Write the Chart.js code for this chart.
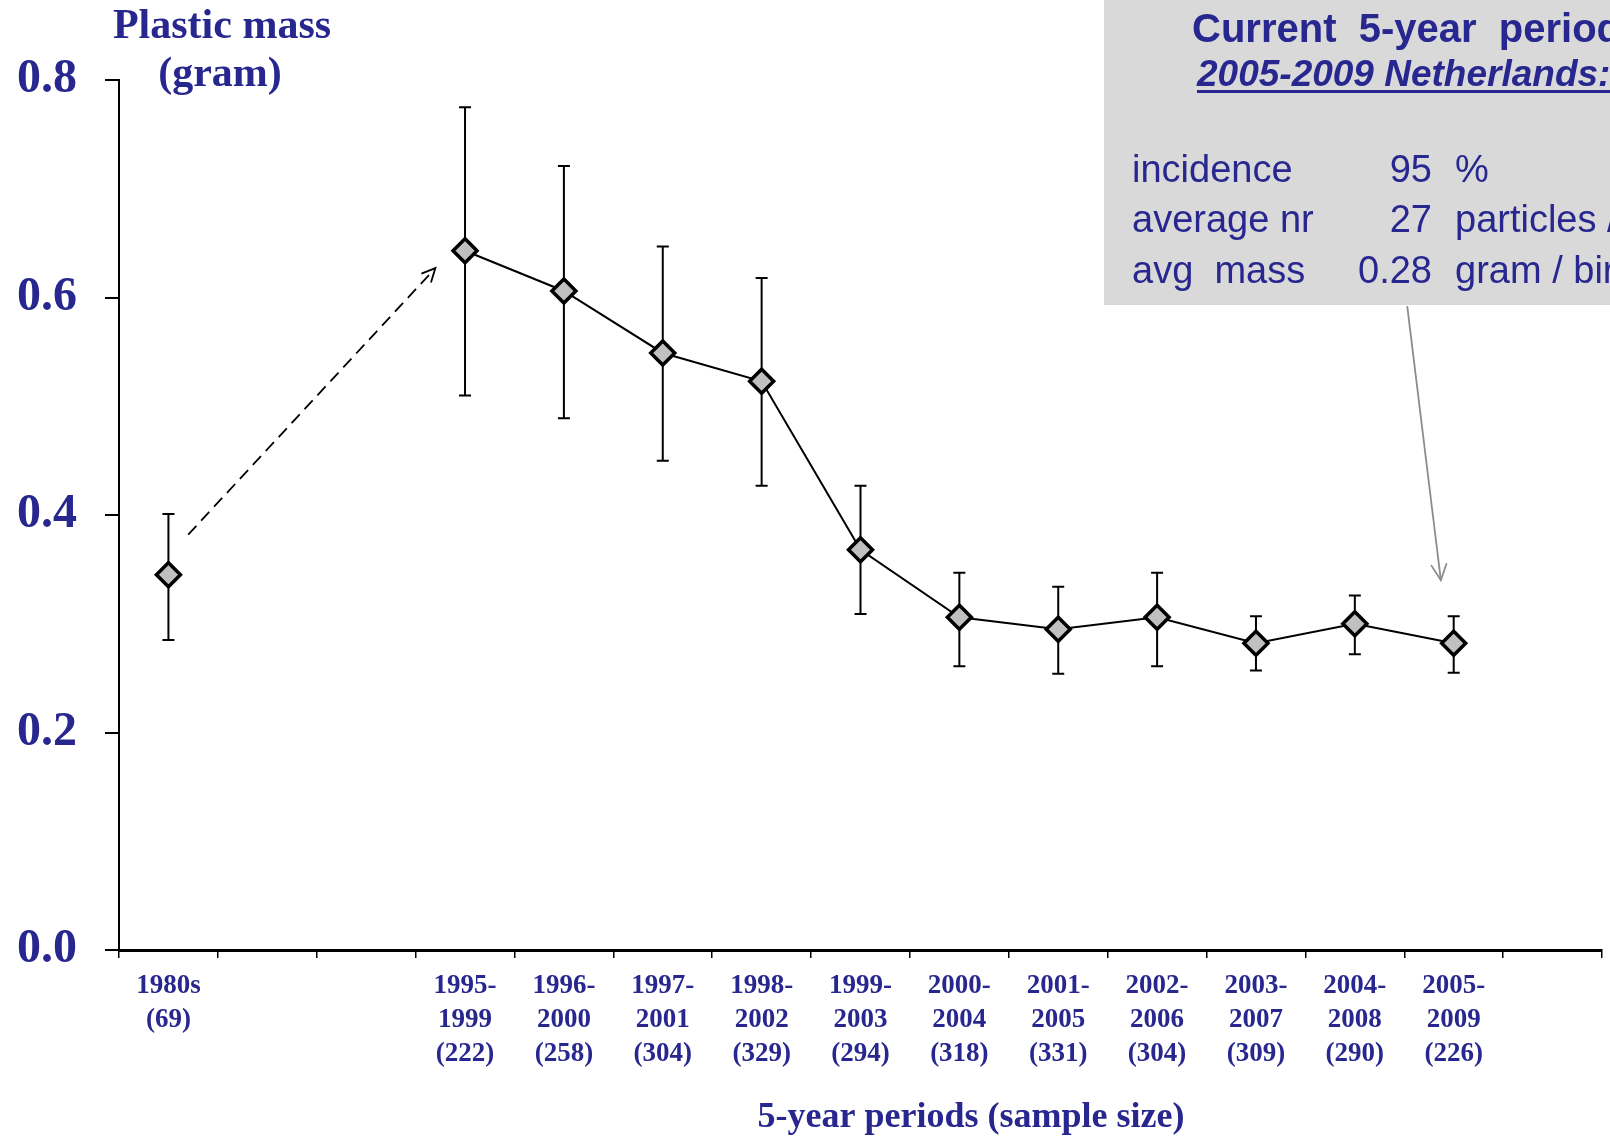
<!DOCTYPE html>
<html>
<head>
<meta charset="utf-8">
<script src="https://cdn.jsdelivr.net/npm/chart.js@4.4.1/dist/chart.umd.min.js"></script>
<style>
body { margin: 0; background: #fff; }
</style>
</head>
<body>
<canvas id="myChart" width="1610" height="1136"></canvas>
<script>
// periods on the x axis (empty slots keep the gap after the 1980s)
var periods = ['1980s', '', '', '1995-1999', '1996-2000', '1997-2001', '1998-2002', '1999-2003',
	'2000-2004', '2001-2005', '2002-2006', '2003-2007', '2004-2008', '2005-2009', ''];
var sampleSizes = [69, null, null, 222, 258, 304, 329, 294, 318, 331, 304, 309, 290, 226, null];
// average plastic mass (gram) and error bar ends
var meanMass = [0.345, null, null, 0.643, 0.606, 0.549, 0.523, 0.368, 0.306, 0.295, 0.306, 0.282, 0.300, 0.282, null];
var errLow  = [0.285, null, null, 0.510, 0.489, 0.450, 0.427, 0.309, 0.261, 0.254, 0.261, 0.257, 0.272, 0.255, null];
var errHigh = [0.401, null, null, 0.775, 0.721, 0.647, 0.618, 0.427, 0.347, 0.334, 0.347, 0.307, 0.326, 0.307, null];
var yTicks = [0, 0.2, 0.4, 0.6, 0.8];

var infoRows = [
	['incidence', '95', '%'],
	['average nr', '27', 'particles / bird'],
	['avg  mass', '0.28', 'gram / bird']
];

var NAVY = '#27278f';
var SERIF = '"Liberation Serif", "Times New Roman", serif';
var SANS = '"Liberation Sans", Arial, sans-serif';

function buildLabels() {
	var labels = [];
	for (var i = 0; i < periods.length; i++) {
		var p = periods[i];
		if (!p) { labels.push(''); continue; }
		var parts = p.split('-');
		if (parts.length == 2) {
			labels.push([parts[0] + '-', parts[1], '(' + sampleSizes[i] + ')']);
		} else {
			labels.push([p, '(' + sampleSizes[i] + ')']);
		}
	}
	return labels;
}

function drawArrow(ctx, x1, y1, x2, y2, color, dash, head) {
	ctx.save();
	ctx.strokeStyle = color;
	ctx.lineWidth = 1.8;
	ctx.setLineDash(dash);
	ctx.beginPath();
	ctx.moveTo(x1, y1);
	ctx.lineTo(x2, y2);
	ctx.stroke();
	ctx.setLineDash([]);
	var a = Math.atan2(y2 - y1, x2 - x1);
	ctx.beginPath();
	ctx.moveTo(x2 - head * Math.cos(a - 0.45), y2 - head * Math.sin(a - 0.45));
	ctx.lineTo(x2, y2);
	ctx.lineTo(x2 - head * Math.cos(a + 0.45), y2 - head * Math.sin(a + 0.45));
	ctx.stroke();
	ctx.restore();
}

var extras = {
	id: 'extras',
	beforeDatasetsDraw: function(chart) {
		var ctx = chart.ctx;
		var xs = chart.scales.x, ys = chart.scales.y;

		// info box in the top right corner
		ctx.save();
		ctx.fillStyle = '#d9d9d9';
		ctx.fillRect(1104, 0, 506, 305);
		ctx.fillStyle = NAVY;
		ctx.textBaseline = 'alphabetic';
		ctx.font = 'bold 40px ' + SANS;
		ctx.fillText('Current  5-year  period', 1192, 42);
		ctx.font = 'italic bold 37px ' + SANS;
		ctx.fillText('2005-2009 Netherlands:', 1197, 86);
		ctx.fillRect(1197, 90, 413, 3);
		ctx.font = '38px ' + SANS;
		var base = [182, 232, 283];
		for (var r = 0; r < infoRows.length; r++) {
			ctx.textAlign = 'left';
			ctx.fillText(infoRows[r][0], 1132, base[r]);
			ctx.textAlign = 'right';
			ctx.fillText(infoRows[r][1], 1432, base[r]);
			ctx.textAlign = 'left';
			ctx.fillText(infoRows[r][2], 1455, base[r]);
		}
		ctx.restore();

		// error bars
		ctx.save();
		ctx.strokeStyle = '#000';
		ctx.lineWidth = 2;
		for (var i = 0; i < meanMass.length; i++) {
			if (meanMass[i] == null) continue;
			var x = xs.getPixelForValue(i);
			var yl = ys.getPixelForValue(errLow[i]);
			var yh = ys.getPixelForValue(errHigh[i]);
			ctx.beginPath();
			ctx.moveTo(x, yl); ctx.lineTo(x, yh);
			ctx.moveTo(x - 6, yl); ctx.lineTo(x + 6, yl);
			ctx.moveTo(x - 6, yh); ctx.lineTo(x + 6, yh);
			ctx.stroke();
		}
		ctx.restore();
	},
	afterDraw: function(chart) {
		var ctx = chart.ctx;
		var xs = chart.scales.x, ys = chart.scales.y;

		// dashed arrow from the 1980s to 1995-1999
		drawArrow(ctx, xs.getPixelForValue(0.2), ys.getPixelForValue(0.382),
			xs.getPixelForValue(2.7), ys.getPixelForValue(0.627), '#000', [12, 7], 15);
		// grey arrow from the info box to 2005-2009
		drawArrow(ctx, xs.getPixelForValue(12.53), ys.getPixelForValue(0.592),
			xs.getPixelForValue(12.87), ys.getPixelForValue(0.34), '#8c8c8c', [], 18);

		ctx.save();
		ctx.fillStyle = NAVY;
		ctx.textAlign = 'center';
		ctx.textBaseline = 'alphabetic';
		ctx.font = 'bold 42px ' + SERIF;
		ctx.fillText('Plastic mass', 222, 38);
		ctx.fillText('(gram)', 220, 86);
		ctx.font = 'bold 36px ' + SERIF;
		ctx.fillText('5-year periods (sample size)', 971, 1127);
		ctx.restore();
	}
};

var ctx = document.getElementById('myChart').getContext('2d');
var chart = new Chart(ctx, {
	type: 'line',
	data: {
		labels: buildLabels(),
		datasets: [{
			data: meanMass,
			borderColor: '#000',
			borderWidth: 2,
			tension: 0,
			spanGaps: false,
			pointStyle: 'rectRot',
			pointRadius: 12,
			pointBorderWidth: 3.5,
			pointBackgroundColor: '#c0c0c0',
			pointBorderColor: '#000'
		}]
	},
	options: {
		responsive: false,
		animation: false,
		layout: { autoPadding: false, padding: { top: 80, right: 8, bottom: 0, left: 0 } },
		plugins: {
			legend: { display: false },
			tooltip: { enabled: false }
		},
		scales: {
			x: {
				offset: true,
				grid: { display: true, offset: true, drawOnChartArea: false, tickLength: 8, color: '#000', lineWidth: 1.5 },
				border: { display: true, color: '#000', width: 3 },
				ticks: {
					autoSkip: false, maxRotation: 0, minRotation: 0, padding: 11, color: NAVY,
					font: { family: SERIF, size: 27, weight: 'bold', lineHeight: 1.26 }
				},
				afterFit: function(scale) { scale.height = 186; }
			},
			y: {
				min: 0,
				max: 0.8,
				afterBuildTicks: function(scale) {
					scale.ticks = yTicks.map(function(v) { return { value: v }; });
				},
				ticks: {
					padding: 28, color: NAVY,
					font: { family: SERIF, size: 48, weight: 'bold' },
					callback: function(v) { return Number(v).toFixed(1); }
				},
				grid: { drawOnChartArea: false, tickLength: 14, color: '#000', lineWidth: 2 },
				border: { color: '#000', width: 2 },
				afterFit: function(scale) { scale.width = 119; }
			}
		}
	},
	plugins: [extras]
});
</script>
</body>
</html>
